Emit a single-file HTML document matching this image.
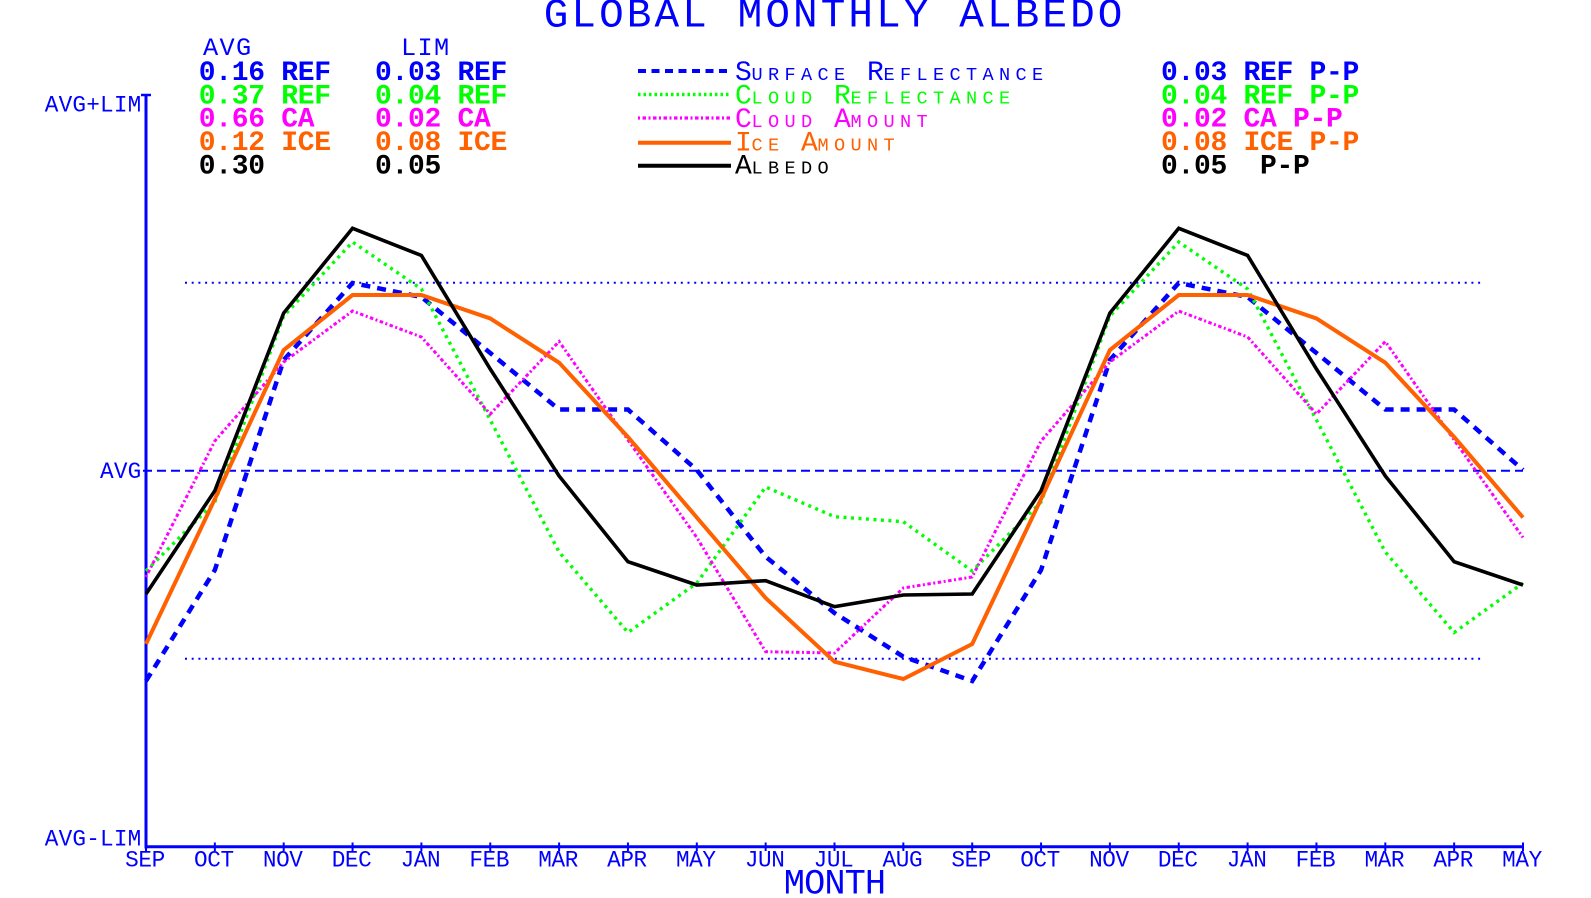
<!DOCTYPE html>
<html>
<head>
<meta charset="utf-8">
<style>
  html,body{margin:0;padding:0;background:#fff;}
  svg{display:block;}
  text{font-family:"Liberation Mono","DejaVu Sans Mono",monospace;}
</style>
</head>
<body>
<svg width="1591" height="898" viewBox="0 0 1591 898" xmlns="http://www.w3.org/2000/svg">
  <rect x="0" y="0" width="1591" height="898" fill="#fff"/>

  <!-- Title -->
  <text x="543.7" y="26.7" font-size="41" letter-spacing="3.1" fill="#0000ff">GLOBAL MONTHLY ALBEDO</text>

  <!-- Header AVG / LIM -->
  <text x="203" y="55" font-size="25.3" letter-spacing="1.3" fill="#0000ff">AVG</text>
  <text x="401" y="55" font-size="25.3" letter-spacing="1.3" fill="#0000ff">LIM</text>

  <!-- Left stats columns -->
  <g font-size="28" font-weight="bold" letter-spacing="-0.3">
    <text x="198.7" y="80" fill="#0000ff">0.16 REF</text>
    <text x="198.7" y="103.3" fill="#00ff00">0.37 REF</text>
    <text x="198.7" y="126.6" fill="#ff00ff">0.66 CA</text>
    <text x="198.7" y="150" fill="#ff6000">0.12 ICE</text>
    <text x="198.7" y="173.3" fill="#000000">0.30</text>

    <text x="375" y="80" fill="#0000ff">0.03 REF</text>
    <text x="375" y="103.3" fill="#00ff00">0.04 REF</text>
    <text x="375" y="126.6" fill="#ff00ff">0.02 CA</text>
    <text x="375" y="150" fill="#ff6000">0.08 ICE</text>
    <text x="375" y="173.3" fill="#000000">0.05</text>

    <text x="1161" y="80" fill="#0000ff">0.03 REF P-P</text>
    <text x="1161" y="103.3" fill="#00ff00">0.04 REF P-P</text>
    <text x="1161" y="126.6" fill="#ff00ff">0.02 CA P-P</text>
    <text x="1161" y="150" fill="#ff6000">0.08 ICE P-P</text>
    <text x="1161" y="173.3" fill="#000000" xml:space="preserve">0.05  P-P</text>
  </g>

  <!-- Legend lines -->
  <line x1="638" y1="71" x2="731" y2="71" stroke="#0000ff" stroke-width="4" stroke-dasharray="8 5.5"/>
  <line x1="638" y1="94.5" x2="731" y2="94.5" stroke="#00ff00" stroke-width="3.5" stroke-dasharray="2.5 3"/>
  <line x1="638" y1="118" x2="731" y2="118" stroke="#ff00ff" stroke-width="3.2" stroke-dasharray="2 2.5 3.5 2.5"/>
  <line x1="638" y1="142.7" x2="731" y2="142.7" stroke="#ff6000" stroke-width="4"/>
  <line x1="638" y1="165.7" x2="731" y2="165.7" stroke="#000000" stroke-width="4"/>

  <!-- Legend text (small caps, monospaced cells) -->
  <g xml:space="preserve">
    <text x="735" y="80" fill="#0000ff"><tspan font-size="28" letter-spacing="-0.3">S</tspan><tspan font-size="18.6" letter-spacing="5.34">URFACE </tspan><tspan font-size="28" letter-spacing="-0.3">R</tspan><tspan font-size="18.6" letter-spacing="5.34">EFLECTANCE</tspan></text>
    <text x="735" y="103.5" fill="#00ff00"><tspan font-size="28" letter-spacing="-0.3">C</tspan><tspan font-size="18.6" letter-spacing="5.34">LOUD </tspan><tspan font-size="28" letter-spacing="-0.3">R</tspan><tspan font-size="18.6" letter-spacing="5.34">EFLECTANCE</tspan></text>
    <text x="735" y="127" fill="#ff00ff"><tspan font-size="28" letter-spacing="-0.3">C</tspan><tspan font-size="18.6" letter-spacing="5.34">LOUD </tspan><tspan font-size="28" letter-spacing="-0.3">A</tspan><tspan font-size="18.6" letter-spacing="5.34">MOUNT</tspan></text>
    <text x="735" y="150.5" fill="#ff6000"><tspan font-size="28" letter-spacing="-0.3">I</tspan><tspan font-size="18.6" letter-spacing="5.34">CE </tspan><tspan font-size="28" letter-spacing="-0.3">A</tspan><tspan font-size="18.6" letter-spacing="5.34">MOUNT</tspan></text>
    <text x="735" y="173.5" fill="#000000"><tspan font-size="28" letter-spacing="-0.3">A</tspan><tspan font-size="18.6" letter-spacing="5.34">LBEDO</tspan></text>
  </g>

  <!-- Y axis labels -->
  <g font-size="22.7" letter-spacing="0.2" fill="#0000ff" text-anchor="end">
    <text x="141.5" y="111.7">AVG+LIM</text>
    <text x="141.5" y="478">AVG</text>
    <text x="141.5" y="845.7">AVG-LIM</text>
  </g>

  <!-- Reference lines -->
  <line x1="143" y1="470.7" x2="1523" y2="470.7" stroke="#0000ff" stroke-width="2" stroke-dasharray="9 5"/>
  <line x1="185" y1="282.7" x2="1483" y2="282.7" stroke="#0000ff" stroke-width="2" stroke-dasharray="2 4.7"/>
  <line x1="185" y1="658.7" x2="1483" y2="658.7" stroke="#0000ff" stroke-width="2" stroke-dasharray="2 4.7"/>

  <!-- Axes -->
  <line x1="146" y1="94" x2="146" y2="848.5" stroke="#0000ff" stroke-width="3"/>
  <line x1="141" y1="95" x2="151" y2="95" stroke="#0000ff" stroke-width="2.5"/>
  <line x1="144.5" y1="846.8" x2="1524" y2="846.8" stroke="#0000ff" stroke-width="3"/>
  <g stroke="#0000ff" stroke-width="2">
    <line x1="146" y1="842.5" x2="146" y2="851"/>
    <line x1="214.85" y1="842.5" x2="214.85" y2="851"/>
    <line x1="283.7" y1="842.5" x2="283.7" y2="851"/>
    <line x1="352.55" y1="842.5" x2="352.55" y2="851"/>
    <line x1="421.4" y1="842.5" x2="421.4" y2="851"/>
    <line x1="490.25" y1="842.5" x2="490.25" y2="851"/>
    <line x1="559.1" y1="842.5" x2="559.1" y2="851"/>
    <line x1="627.95" y1="842.5" x2="627.95" y2="851"/>
    <line x1="696.8" y1="842.5" x2="696.8" y2="851"/>
    <line x1="765.65" y1="842.5" x2="765.65" y2="851"/>
    <line x1="834.5" y1="842.5" x2="834.5" y2="851"/>
    <line x1="903.35" y1="842.5" x2="903.35" y2="851"/>
    <line x1="972.2" y1="842.5" x2="972.2" y2="851"/>
    <line x1="1041.05" y1="842.5" x2="1041.05" y2="851"/>
    <line x1="1109.9" y1="842.5" x2="1109.9" y2="851"/>
    <line x1="1178.75" y1="842.5" x2="1178.75" y2="851"/>
    <line x1="1247.6" y1="842.5" x2="1247.6" y2="851"/>
    <line x1="1316.45" y1="842.5" x2="1316.45" y2="851"/>
    <line x1="1385.3" y1="842.5" x2="1385.3" y2="851"/>
    <line x1="1454.15" y1="842.5" x2="1454.15" y2="851"/>
    <line x1="1523" y1="842.5" x2="1523" y2="851"/>
  </g>

  <!-- Month labels -->
  <g font-size="22.7" letter-spacing="-0.4" fill="#0000ff" text-anchor="middle">
    <text x="145" y="866.7">SEP</text>
    <text x="213.85" y="866.7">OCT</text>
    <text x="282.7" y="866.7">NOV</text>
    <text x="351.55" y="866.7">DEC</text>
    <text x="420.4" y="866.7">JAN</text>
    <text x="489.25" y="866.7">FEB</text>
    <text x="558.1" y="866.7">MAR</text>
    <text x="626.95" y="866.7">APR</text>
    <text x="695.8" y="866.7">MAY</text>
    <text x="764.65" y="866.7">JUN</text>
    <text x="833.5" y="866.7">JUL</text>
    <text x="902.35" y="866.7">AUG</text>
    <text x="971.2" y="866.7">SEP</text>
    <text x="1040.05" y="866.7">OCT</text>
    <text x="1108.9" y="866.7">NOV</text>
    <text x="1177.75" y="866.7">DEC</text>
    <text x="1246.6" y="866.7">JAN</text>
    <text x="1315.45" y="866.7">FEB</text>
    <text x="1384.3" y="866.7">MAR</text>
    <text x="1453.15" y="866.7">APR</text>
    <text x="1522" y="866.7">MAY</text>
  </g>
  <text x="834.5" y="893.3" font-size="35.3" letter-spacing="-0.9" fill="#0000ff" text-anchor="middle">MONTH</text>

  <!-- Series -->
  <g fill="none" stroke-linejoin="miter">
    <!-- Surface Reflectance (blue dashed) -->
    <polyline stroke="#0000ff" stroke-width="4.5" stroke-dasharray="9 7"
      points="146,681 214.85,570 283.7,360 352.55,283 421.4,297 490.25,353 559.1,409.5 627.95,409.5 696.8,470 765.65,556.7 834.5,613 903.35,656.7 972.2,681 1041.05,570 1109.9,360 1178.75,283 1247.6,297 1316.45,353 1385.3,409.5 1454.15,409.5 1523,470"/>
    <!-- Cloud Reflectance (green dotted) -->
    <polyline stroke="#00ff00" stroke-width="3.4" stroke-dasharray="3 4.5"
      points="146,571 214.85,502 283.7,316 352.55,242 421.4,289 490.25,420 559.1,552 627.95,632.5 696.8,583 765.65,487 834.5,516.7 903.35,521.7 972.2,571 1041.05,502 1109.9,316 1178.75,242 1247.6,289 1316.45,420 1385.3,552 1454.15,632.5 1523,583"/>
    <!-- Cloud Amount (magenta dotted) -->
    <polyline stroke="#ff00ff" stroke-width="3" stroke-dasharray="2 2.5 3.5 2.5"
      points="146,577 214.85,441 283.7,362 352.55,311 421.4,337 490.25,414 559.1,341.5 627.95,440 696.8,537.5 765.65,651.7 834.5,653 903.35,588 972.2,577 1041.05,441 1109.9,362 1178.75,311 1247.6,337 1316.45,414 1385.3,341.5 1454.15,440 1523,537.5"/>
    <!-- Ice Amount (orange solid) -->
    <polyline stroke="#ff6000" stroke-width="4"
      points="146,644 214.85,499 283.7,350 352.55,295 421.4,295 490.25,318.5 559.1,362.7 627.95,437 696.8,517.5 765.65,598 834.5,661.7 903.35,679 972.2,644 1041.05,499 1109.9,350 1178.75,295 1247.6,295 1316.45,318.5 1385.3,362.7 1454.15,437 1523,517.5"/>
    <!-- Albedo (black solid) -->
    <polyline stroke="#000000" stroke-width="3.6"
      points="146,594 214.85,490.7 283.7,313 352.55,228.3 421.4,255.5 490.25,369 559.1,476 627.95,561.7 696.8,585 765.65,580.7 834.5,606.7 903.35,595 972.2,594 1041.05,490.7 1109.9,313 1178.75,228.3 1247.6,255.5 1316.45,369 1385.3,476 1454.15,561.7 1523,585"/>
  </g>
</svg>
</body>
</html>
